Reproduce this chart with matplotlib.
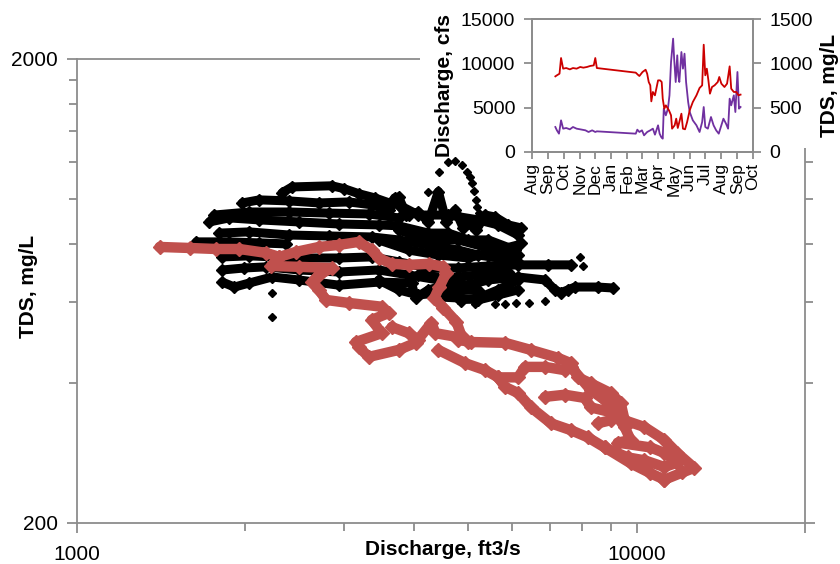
import pandas as pd
import matplotlib
matplotlib.use('Agg')
import matplotlib.pyplot as plt
import matplotlib.dates as mdates
from matplotlib.patches import Rectangle
from matplotlib.ticker import FixedLocator, NullFormatter

plt.rcParams['font.family'] = ['Liberation Sans', 'DejaVu Sans']

# ---- main plot data: discharge (ft3/s) vs TDS (mg/L)
# black cloud (other periods)
q_b1 = [2326, 2423, 2855, 3000, 3188, 3405, 3651, 3695, 3802, 3913]
tds_b1 = [1030, 1060, 1066, 1051, 1025, 1004, 975, 1004, 955, 922]
q_b2 = [1974, 2117, 2393, 2707, 3061, 3363, 3606, 3755, 3880, 4076, 4246,
        4424, 4571, 4744, 4900, 5003, 5170, 5365, 5589, 5895, 6217]
tds_b2 = [979, 994, 989, 979, 984, 970, 945, 1009, 922, 936, 891,
          1036, 891, 945, 865, 887, 856, 922, 913, 878, 865]
q_b3 = [1760, 2032, 2393, 2820, 3322, 3755]
tds_b3 = [922, 936, 936, 931, 927, 909]
q_b4 = [1724, 1872, 2117, 2494, 2938, 3460, 3755, 4246, 4610, 5003, 5431, 6066, 6217]
tds_b4 = [891, 909, 900, 891, 882, 878, 874, 843, 843, 815, 815, 775, 803]
q_b5 = [1797, 2032, 2393, 2820, 3363, 3755, 4246, 4801, 5213, 5657, 6141]
tds_b5 = [843, 848, 835, 831, 827, 815, 795, 775, 756, 745, 731]
q_b6 = [1635, 1872, 2117, 2365]
tds_b6 = [807, 807, 803, 799]
q_b7 = [1819, 2032, 2494, 2938, 3363, 3755, 4246, 4801, 5431, 6141, 6944, 7633]
tds_b7 = [749, 753, 745, 745, 749, 731, 709, 709, 716, 720, 720, 720]
q_b8 = [1819, 1990, 2179, 2494, 2938, 3460, 3913, 4424, 5003, 5431, 6141,
        6859, 7146, 7324, 7540, 7759, 8522, 9063]
tds_b8 = [702, 709, 713, 702, 695, 702, 685, 668, 651, 668, 678,
          668, 636, 627, 636, 645, 645, 642]
q_b9 = [1819, 1911, 2032, 2232, 2494, 2938, 3460, 3961, 4027, 4246, 4553,
        4860, 5213, 5657, 6141]
tds_b9 = [661, 645, 658, 678, 668, 651, 661, 658, 611, 636, 651,
          605, 611, 636, 668]
q_b10 = [3460, 3913, 4424, 5003, 5657, 6141]
tds_b10 = [815, 775, 756, 745, 775, 795]
q_b11 = [3460, 3755, 4076, 4424, 4801, 5213]
tds_b11 = [668, 636, 620, 627, 636, 636]
q_b12 = [3755, 4076, 4610, 5213, 5657, 6141]
tds_b12 = [970, 922, 922, 900, 878, 835]
q_b13 = [3755, 4246, 4801, 5431, 6141]
tds_b13 = [856, 815, 815, 783, 756]
q_b14 = [4076, 4610, 5213, 5895]
tds_b14 = [685, 675, 685, 695]
q_b15 = [4424, 4801, 5213, 5657, 6141]
tds_b15 = [614, 611, 605, 620, 636]
# loose black points
q_bdots = [4860, 5149, 5589, 5822, 6091, 6423, 6859,
           4442, 4610, 4744, 4880, 4983, 5044, 5085, 5128, 5170, 5192, 5234,
           2232, 2232, 4246, 7916, 8015]
tds_bdots = [596, 593, 593, 593, 596, 596, 602,
             1142, 1199, 1205, 1181, 1142, 1114, 1081, 1041, 994, 960, 931,
             627, 556, 1036, 749, 716]

# red trajectory (study year)
q_r1 = [1405, 1589, 1774, 1950, 2179, 2298, 2463, 2707, 2938, 3188, 3363, 3460,
        3651, 3913, 4263, 4516, 4571, 4442, 4352, 4516, 4764, 4860, 5003]
tds_r1 = [787, 783, 779, 779, 764, 749, 768, 787, 795, 807, 775, 745,
          724, 720, 724, 713, 692, 645, 611, 582, 543, 508, 491]
q_r2 = [2298, 2223, 2494, 2855, 2707, 2630, 2707, 2786, 3061, 3503, 3606,
        3363, 3503, 3150, 3188, 3322, 3755, 4027, 4299, 4370, 4801]
tds_r2 = [749, 716, 713, 709, 685, 661, 636, 605, 596, 585, 567,
          548, 513, 491, 479, 456, 472, 489, 540, 513, 503]
q_r3 = [3651, 3913, 4076]
tds_r3 = [529, 513, 496]
q_r4 = [4801, 5065, 5822, 6476, 7234, 7633, 7852, 8281, 8989, 9367, 9521,
        10332, 11217, 11830, 12679, 12075, 11217]
tds_r4 = [496, 491, 489, 472, 454, 442, 412, 400, 381, 363, 333,
          322, 302, 283, 263, 257, 248]
q_r5 = [4424, 4941, 5365, 5657, 5822, 6141, 6476, 7030, 7633, 8180, 8770,
        9758, 10590, 11217]
tds_r5 = [472, 442, 427, 412, 393, 381, 355, 328, 317, 306, 291,
          269, 256, 248]
q_r6 = [5657, 6141, 6320, 6859, 7445, 7633, 8281, 8770, 9252, 8989, 8522]
tds_r6 = [412, 412, 434, 434, 427, 434, 387, 368, 350, 333, 328]
q_r7 = [6859, 7445, 8081, 8281, 9137, 9521, 9758, 9252, 10590, 11217, 11830,
        11217, 10332, 9638, 8770]
tds_r7 = [374, 378, 372, 355, 345, 322, 302, 298, 291, 283, 270,
          264, 273, 277, 291]

# ---- inset time series
tds_dates = ['2009-09-15', '2009-09-18', '2009-09-23', '2009-09-26', '2009-09-30',
             '2009-10-06', '2009-10-13', '2009-10-19', '2009-10-26', '2009-11-02',
             '2009-11-08', '2009-11-15', '2009-11-21', '2009-11-28', '2009-12-01',
             '2009-12-04', '2010-02-17', '2010-02-21', '2010-02-24', '2010-03-02',
             '2010-03-08', '2010-03-11', '2010-03-14', '2010-03-17', '2010-03-19',
             '2010-03-22', '2010-03-26', '2010-04-01', '2010-04-05', '2010-04-08',
             '2010-04-10', '2010-04-13', '2010-04-16', '2010-04-22', '2010-04-26',
             '2010-04-28', '2010-05-03', '2010-05-06', '2010-05-09', '2010-05-12',
             '2010-05-16', '2010-05-19', '2010-05-23', '2010-05-27', '2010-06-01',
             '2010-06-07', '2010-06-14', '2010-06-20', '2010-06-25', '2010-06-28',
             '2010-07-01', '2010-07-04', '2010-07-07', '2010-07-10', '2010-07-14',
             '2010-07-19', '2010-07-25', '2010-07-28', '2010-08-01', '2010-08-07',
             '2010-08-12', '2010-08-17', '2010-08-20', '2010-08-25', '2010-08-30',
             '2010-09-03', '2010-09-07']
tds_vals = [853, 865, 883, 1060, 940, 947, 932, 947, 940, 959,
            951, 959, 970, 977, 1060, 947, 895, 872, 857, 902,
            928, 883, 789, 752, 571, 677, 639, 808, 808, 789,
            602, 489, 526, 470, 414, 263, 301, 376, 271, 338,
            432, 263, 256, 338, 470, 564, 639, 722, 752, 1210,
            865, 940, 808, 658, 733, 752, 789, 846, 771, 733,
            771, 966, 714, 677, 677, 639, 647]
q_dates = ['2009-09-15', '2009-09-18', '2009-09-22', '2009-09-26', '2009-09-30',
           '2009-10-06', '2009-10-13', '2009-10-19', '2009-10-26', '2009-11-02',
           '2009-11-12', '2009-11-18', '2009-11-25', '2009-12-01', '2009-12-04',
           '2010-02-17', '2010-02-20', '2010-02-24', '2010-03-01', '2010-03-05',
           '2010-03-11', '2010-03-17', '2010-03-22', '2010-03-26', '2010-04-01',
           '2010-04-04', '2010-04-07', '2010-04-10', '2010-04-12', '2010-04-16',
           '2010-04-20', '2010-04-23', '2010-04-26', '2010-04-30', '2010-05-02',
           '2010-05-05', '2010-05-08', '2010-05-10', '2010-05-12', '2010-05-16',
           '2010-05-19', '2010-05-22', '2010-05-25', '2010-05-29', '2010-06-01',
           '2010-06-07', '2010-06-14', '2010-06-20', '2010-06-25', '2010-06-28',
           '2010-07-01', '2010-07-06', '2010-07-12', '2010-07-17', '2010-07-22',
           '2010-07-27', '2010-08-01', '2010-08-05', '2010-08-10', '2010-08-14',
           '2010-08-17', '2010-08-20', '2010-08-25', '2010-08-28', '2010-09-01',
           '2010-09-04', '2010-09-07']
q_vals = [2820, 2444, 2068, 3571, 2632, 2707, 2556, 2820, 2632, 2556,
          2444, 2256, 2444, 2256, 2331, 2068, 2519, 2256, 2444, 1880,
          2256, 2444, 2632, 1955, 3008, 2068, 1692, 1504, 4887, 4135,
          4887, 6391, 10150, 12782, 10526, 7895, 10902, 8647, 7895, 11278,
          9398, 11090, 7895, 5639, 4511, 3571, 3008, 2256, 3383, 5075,
          2820, 2632, 3947, 3008, 2444, 2068, 3008, 3759, 3195, 2632,
          6015, 5263, 6391, 4511, 9023, 4887, 5075]

gray = '#8c8c8c'
red = '#c0504d'

fig = plt.figure(figsize=(8.4, 5.64), dpi=100)
ax = fig.add_axes([77/840, 41/564, 728/840, 464/564])
ax.set_xscale('log')
ax.set_yscale('log')
ax.set_xlim(1000, 20000)
ax.set_ylim(200, 2000)

blacks = [(q_b1, tds_b1), (q_b2, tds_b2), (q_b3, tds_b3), (q_b4, tds_b4), (q_b5, tds_b5),
          (q_b6, tds_b6), (q_b7, tds_b7), (q_b8, tds_b8), (q_b9, tds_b9),
          (q_b10, tds_b10), (q_b11, tds_b11), (q_b12, tds_b12), (q_b13, tds_b13),
          (q_b14, tds_b14), (q_b15, tds_b15)]
for q, t in blacks:
    ax.plot(q, t, color='black', lw=6.5, marker='D', ms=6, solid_joinstyle='round',
            solid_capstyle='round')
ax.plot(q_bdots, tds_bdots, ls='none', color='black', marker='D', ms=4.5)

reds = [(q_r1, tds_r1), (q_r2, tds_r2), (q_r3, tds_r3), (q_r4, tds_r4), (q_r5, tds_r5),
        (q_r6, tds_r6), (q_r7, tds_r7)]
for q, t in reds:
    ax.plot(q, t, color=red, lw=7.5, marker='D', ms=7, solid_joinstyle='round',
            solid_capstyle='round')

for s in ax.spines.values():
    s.set_color(gray)
    s.set_linewidth(1.3)
ax.xaxis.set_major_locator(FixedLocator([1000, 10000, 20000]))
ax.xaxis.set_minor_locator(FixedLocator(range(2000, 10000, 1000)))
ax.set_xticklabels(['1000', '10000', ''])
ax.xaxis.set_minor_formatter(NullFormatter())
ax.yaxis.set_major_locator(FixedLocator([200, 2000]))
ax.yaxis.set_minor_locator(FixedLocator(range(400, 2000, 200)))
ax.set_yticklabels(['200', '2000'])
ax.yaxis.set_minor_formatter(NullFormatter())
ax.tick_params(which='both', color=gray, width=1.3, labelsize=15, right=True)
ax.tick_params(which='major', length=7)
ax.tick_params(which='minor', length=6)
ax.tick_params(axis='x', pad=9)
ax.tick_params(axis='y', pad=7)
ax.set_xlabel('Discharge, ft3/s', fontsize=15, fontweight='bold', va='center')
ax.xaxis.set_label_coords(0.503, -0.058)
ax.set_ylabel('TDS, mg/L', fontsize=15, fontweight='bold', va='center')
ax.yaxis.set_label_coords(-0.067, 0.51)

# white chart area behind the inset
fig.add_artist(Rectangle((420/840, 416/564), 420/840, 148/564, transform=fig.transFigure,
                         facecolor='white', edgecolor='none', zorder=1))

ins = fig.add_axes([532/840, 412/564, 221/840, 133/564], zorder=2)
ins.plot(pd.to_datetime(q_dates), q_vals, color='#7030a0', lw=1.3)
ins.set_ylim(0, 15000)
ins.set_yticks([0, 5000, 10000, 15000])
ins.set_xlim(pd.Timestamp('2009-08-01'), pd.Timestamp('2010-10-01'))
ins.xaxis.set_major_locator(mdates.MonthLocator())
ins.xaxis.set_major_formatter(mdates.DateFormatter('%b'))
ins.set_ylabel('Discharge, cfs', fontsize=15, fontweight='bold', va='center')
ins.yaxis.set_label_coords(-0.394, 0.5)
ins2 = ins.twinx()
ins2.plot(pd.to_datetime(tds_dates), tds_vals, color='#cc0000', lw=1.3)
ins2.set_ylim(0, 1500)
ins2.set_yticks([0, 500, 1000, 1500])
ins2.set_ylabel('TDS, mg/L', fontsize=15, fontweight='bold', va='center', rotation=90)
ins2.yaxis.set_label_coords(1.348, 0.5)
for a in (ins, ins2):
    for s in a.spines.values():
        s.set_color(gray)
        s.set_linewidth(1.3)
    a.tick_params(color=gray, width=1.3, length=6, labelsize=14, pad=6)
ins.tick_params(axis='x', labelsize=12.5, rotation=90, pad=3, length=5)

fig.savefig('out.png', dpi=100)
